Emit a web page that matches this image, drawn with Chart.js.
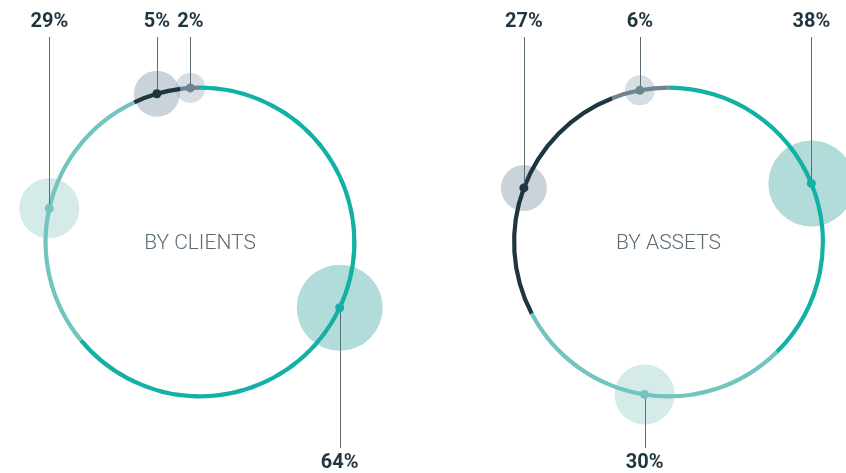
<!DOCTYPE html>
<html>
<head>
<meta charset="utf-8">
<script src="https://cdn.jsdelivr.net/npm/chart.js@4.4.1/dist/chart.umd.min.js"></script>
<style>
  html, body { margin: 0; padding: 0; background: #ffffff; }
  #wrap { position: relative; width: 846px; height: 473px; overflow: hidden; }
  .cv { position: absolute; top: 0; width: 423px; height: 473px; }
  #c1 { left: 0; }
  #c2 { left: 423px; }
</style>
</head>
<body>
<div id="wrap">
  <div class="cv" id="c1"><canvas id="clients"></canvas></div>
  <div class="cv" id="c2"><canvas id="assets"></canvas></div>
</div>
<script>
// ---- data ----
const categories = ['Segment 1', 'Segment 2', 'Segment 3', 'Segment 4'];
const clientValues = [64, 29, 5, 2];
const assetValues = [38, 30, 27, 6];
const chartTitles = ['BY CLIENTS', 'BY ASSETS'];

// ---- styles ----
const ringColors = ['#12b0a5', '#72c5bf', '#1f3540', '#6d8591'];
const bubbleColors = ['rgba(130,198,194,0.62)', 'rgba(176,219,215,0.55)', 'rgba(150,166,182,0.5)', 'rgba(170,183,197,0.48)'];
const bubbleRadiiByRank = [43, 30, 23, 15];
const OUTER_R = 156.5, INNER_R = 152.3;

const bubblePlugin = {
  id: 'bubbles',
  beforeDatasetsDraw(chart) {
    const ctx = chart.ctx;
    const meta = chart.getDatasetMeta(0);
    const vals = chart.data.datasets[0].data;
    const order = vals.map((v, i) => i).sort((a, b) => vals[b] - vals[a]);
    meta.data.forEach((arc, i) => {
      const p = arc.getProps(['x', 'y', 'startAngle', 'endAngle', 'innerRadius', 'outerRadius'], true);
      const a = (p.startAngle + p.endAngle) / 2;
      const r = (p.innerRadius + p.outerRadius) / 2;
      const bx = p.x + r * Math.cos(a), by = p.y + r * Math.sin(a);
      const rank = order.indexOf(i);
      ctx.save();
      ctx.beginPath();
      ctx.arc(bx, by, bubbleRadiiByRank[rank], 0, Math.PI * 2);
      ctx.fillStyle = bubbleColors[i];
      ctx.fill();
      ctx.restore();
    });
  },
  afterDatasetsDraw(chart, args, opts) {
    const ctx = chart.ctx;
    const meta = chart.getDatasetMeta(0);
    const vals = chart.data.datasets[0].data;
    let cx = 0, cy = 0;
    meta.data.forEach((arc, i) => {
      const p = arc.getProps(['x', 'y', 'startAngle', 'endAngle', 'innerRadius', 'outerRadius'], true);
      cx = p.x; cy = p.y;
      const a = (p.startAngle + p.endAngle) / 2;
      const r = (p.innerRadius + p.outerRadius) / 2;
      const bx = p.x + r * Math.cos(a), by = p.y + r * Math.sin(a);
      const top = by < p.y;
      ctx.save();
      // leader line
      ctx.strokeStyle = '#5d6d76';
      ctx.lineWidth = 1;
      ctx.beginPath();
      const lx = Math.round(bx) + 0.5;
      ctx.moveTo(lx, by);
      ctx.lineTo(lx, top ? 37 : 448);
      ctx.stroke();
      // dot
      ctx.beginPath();
      ctx.arc(bx, by, 4.5, 0, Math.PI * 2);
      ctx.fillStyle = ringColors[i];
      ctx.fill();
      // label
      ctx.fillStyle = '#1f3540';
      ctx.font = 'bold 20px Roboto';
      ctx.textAlign = 'center';
      ctx.textBaseline = 'middle';
      ctx.fillText(vals[i] + '%', bx, top ? 22 : 463);
      ctx.restore();
    });
    // centre title
    ctx.save();
    ctx.fillStyle = '#5b6b75';
    ctx.font = '300 21px Roboto';
    ctx.textAlign = 'center';
    ctx.textBaseline = 'middle';
    ctx.fillText(opts.title, cx, cy + 1.5);
    ctx.restore();
  }
};

function makeRing(id, values, title, padding) {
  return new Chart(document.getElementById(id), {
    type: 'doughnut',
    data: {
      labels: categories,
      datasets: [{
        data: values,
        backgroundColor: ringColors,
        borderWidth: 0,
        hoverOffset: 0
      }]
    },
    options: {
      responsive: true,
      maintainAspectRatio: false,
      animation: false,
      radius: OUTER_R,
      cutout: (INNER_R / OUTER_R * 100) + '%',
      layout: { padding: padding },
      events: [],
      plugins: {
        legend: { display: false },
        tooltip: { enabled: false },
        bubbles: { title: title }
      }
    },
    plugins: [bubblePlugin]
  });
}

makeRing('clients', clientValues, chartTitles[0], { left: 0, right: 23, top: 11, bottom: 0 });
makeRing('assets', assetValues, chartTitles[1], { left: 68, right: 0, top: 11, bottom: 0 });
</script>
</body>
</html>
